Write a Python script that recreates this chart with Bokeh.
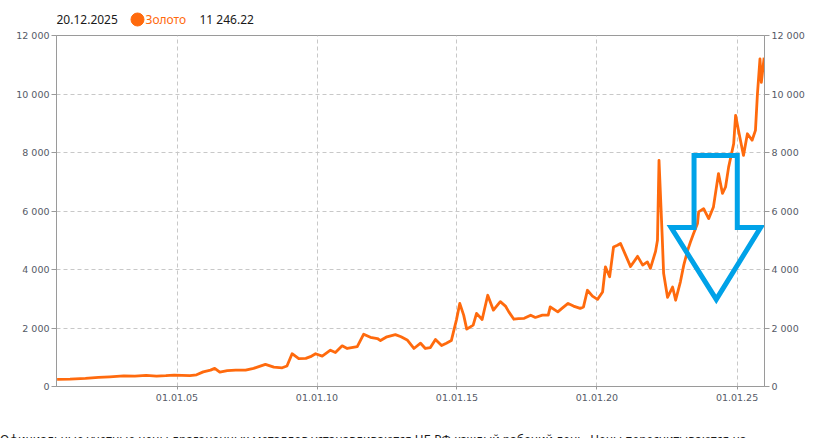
from datetime import datetime
import pandas as pd
from bokeh.plotting import figure
from bokeh.layouts import column
from bokeh.models import FixedTicker, LinearAxis, DatetimeTickFormatter, Range1d, Div
from bokeh.core.properties import value
from bokeh.embed import file_html
from bokeh.resources import INLINE

# ---- data ----
dates = [
    "2000-09-20", "2001-03-07", "2001-09-24", "2002-03-14", "2002-08-08", "2003-02-06",
    "2003-07-02", "2003-11-25", "2004-04-09", "2004-08-08", "2004-11-25", "2005-06-18",
    "2005-09-13", "2005-12-09", "2006-03-14", "2006-05-08", "2006-07-13", "2006-10-19",
    "2007-02-06", "2007-06-14", "2007-09-27", "2008-02-28", "2008-06-17", "2008-10-04",
    "2008-12-05", "2009-02-10", "2009-05-08", "2009-08-08", "2009-10-08", "2009-12-13",
    "2010-03-10", "2010-06-25", "2010-08-29", "2010-11-25", "2011-01-30", "2011-06-10",
    "2011-09-02", "2011-11-28", "2012-02-28", "2012-04-08", "2012-07-01", "2012-10-19",
    "2013-01-01", "2013-03-22", "2013-06-18", "2013-09-13", "2013-11-14", "2014-01-19",
    "2014-03-26", "2014-06-14", "2014-08-15", "2014-10-19", "2014-12-24", "2015-02-06",
    "2015-03-29", "2015-05-08", "2015-07-31", "2015-09-13", "2015-11-25", "2016-02-06",
    "2016-04-20", "2016-07-19", "2016-09-24", "2016-11-07", "2017-01-12", "2017-03-14",
    "2017-05-27", "2017-08-19", "2017-10-19", "2018-01-19", "2018-04-05", "2018-05-01",
    "2018-08-08", "2018-10-01", "2018-12-20", "2019-02-28", "2019-05-27", "2019-07-09",
    "2019-08-29", "2019-11-03", "2020-01-08", "2020-03-14", "2020-04-20", "2020-06-14",
    "2020-08-04", "2020-09-24", "2020-11-03", "2021-01-08", "2021-03-14", "2021-06-14",
    "2021-08-19", "2021-10-19", "2021-11-28", "2022-02-03", "2022-02-28", "2022-03-20",
    "2022-05-01", "2022-05-19", "2022-07-09", "2022-09-13", "2022-10-23", "2022-12-24",
    "2023-02-06", "2023-03-29", "2023-05-04", "2023-06-14", "2023-08-04", "2023-08-19",
    "2023-10-23", "2023-12-28", "2024-02-28", "2024-05-04", "2024-06-25", "2024-08-04",
    "2024-09-13", "2024-11-18", "2024-12-13", "2025-01-19", "2025-03-26", "2025-05-16",
    "2025-07-16", "2025-08-29", "2025-09-24", "2025-10-27", "2025-11-14", "2025-12-20",
]
gold_prices = [
    245, 250, 275, 310, 330, 365,
    355, 380, 358, 370, 392, 370,
    400, 500, 560, 620, 490, 540,
    560, 560, 620, 755, 660, 640,
    700, 1120, 950, 960, 1020, 1120,
    1040, 1240, 1160, 1390, 1300, 1360,
    1790, 1680, 1640, 1570, 1700, 1775,
    1700, 1590, 1300, 1480, 1300, 1330,
    1610, 1400, 1480, 1570, 2270, 2840,
    2440, 1960, 2100, 2500, 2290, 3120,
    2610, 2900, 2750, 2550, 2300, 2320,
    2330, 2440, 2360, 2440, 2440, 2720,
    2550, 2670, 2840, 2750, 2670, 2720,
    3290, 3090, 2980, 3230, 4090, 3750,
    4770, 4830, 4890, 4490, 4100, 4450,
    4150, 4260, 4040, 4620, 5000, 7730,
    5110, 3870, 3050, 3400, 2950, 3580,
    4150, 4660, 4940, 5230, 5570, 5970,
    6080, 5740, 6140, 7280, 6600, 6820,
    7500, 8300, 9270, 8760, 7900, 8640,
    8420, 8757, 10010, 11200, 10400, 11246.22,
]

y_ticks = [0, 2000, 4000, 6000, 8000, 10000, 12000]
y_tick_labels = ["0", "2 000", "4 000", "6 000", "8 000", "10 000", "12 000"]
x_tick_dates = ["2005-01-01", "2010-01-01", "2015-01-01", "2020-01-01", "2025-01-01"]
x_tick_labels = ["01.01.05", "01.01.10", "01.01.15", "01.01.20", "01.01.25"]

legend_date = "20.12.2025"
series_name = "Золото"
legend_value = "11 246.22"
footnote = ("Официальные учетные цены драгоценных металлов устанавливаются ЦБ РФ "
            "каждый рабочий день. Цены пересчитываются на")

# Hand-drawn arrow overlay (data units)
arrow_dates = ["2023-06-20", "2025-01-04", "2025-01-04", "2025-11-04",
               "2024-04-05", "2022-08-25", "2023-06-20"]
arrow_values = [7900, 7900, 5435, 5435, 2977, 5435, 5435]

ORANGE = "#ff6a0d"
BLUE = "#00a2e8"
AXIS = "#9a9a9a"
TICKTXT = "#555a66"
INK = "#1a1a1a"
PAGE_W = 828
FRAME_L, FRAME_R = 56, 764      # page x of the chart frame (strips align to it)

# ---- header strip (its frame is aligned with the chart frame; 1 unit = 1 page px) ----
head = figure(width=PAGE_W, height=27, x_range=Range1d(FRAME_L, FRAME_R), y_range=Range1d(0, 27),
              x_axis_location=None, y_axis_location=None,
              min_border_left=FRAME_L, min_border_right=PAGE_W - FRAME_R,
              min_border_top=0, min_border_bottom=0,
              output_backend="svg", toolbar_location=None,
              background_fill_color="white", border_fill_color="white")
head.grid.visible = False
head.outline_line_color = None
head.text(x=[56], y=[8], text=[legend_date], text_font=value("Noto Sans"),
          text_font_size=value("12px"), text_color=INK, text_baseline="middle")
head.scatter(x=[137], y=[8], size=13, marker="circle", fill_color=ORANGE, line_color=ORANGE)
head.text(x=[145], y=[8], text=[series_name], text_font=value("Noto Sans"),
          text_font_size=value("12px"), text_color=ORANGE, text_baseline="middle")
head.text(x=[199], y=[8], text=[legend_value], text_font=value("Noto Sans"),
          text_font_size=value("12px"), text_color=INK, text_baseline="middle")

# ---- main chart ----
x = pd.to_datetime(dates)
p = figure(
    x_axis_type="datetime",
    frame_width=FRAME_R - FRAME_L, frame_height=351,
    min_border_left=FRAME_L, min_border_right=PAGE_W - FRAME_R, min_border_top=8, min_border_bottom=44,
    x_range=Range1d(datetime(2000, 9, 12), datetime(2025, 12, 25)),
    y_range=Range1d(0, 12000),
    output_backend="svg", toolbar_location=None,
    background_fill_color="white", border_fill_color="white",
)
p.outline_line_color = AXIS
p.outline_line_width = 1

for g in (p.xgrid, p.ygrid):
    g.grid_line_color = "#c8c8c8"
    g.grid_line_dash = "4 3"
    g.grid_line_width = 1

x_tick_ms = [pd.Timestamp(d).value // 10**6 for d in x_tick_dates]
p.xaxis.ticker = FixedTicker(ticks=x_tick_ms)
p.xaxis.formatter = DatetimeTickFormatter(
    years="%d.%m.%y", months="%d.%m.%y", days="%d.%m.%y")
p.xaxis.major_label_overrides = {t: l for t, l in zip(x_tick_ms, x_tick_labels)}
p.xgrid.ticker = FixedTicker(ticks=x_tick_ms)

y_over = {t: l for t, l in zip(y_ticks, y_tick_labels)}
p.yaxis.ticker = FixedTicker(ticks=y_ticks)
p.yaxis.major_label_overrides = y_over
p.ygrid.ticker = FixedTicker(ticks=y_ticks)
right_axis = LinearAxis(ticker=FixedTicker(ticks=y_ticks), major_label_overrides=y_over)
p.add_layout(right_axis, "right")

for ax in p.axis:
    ax.axis_line_color = AXIS
    ax.major_tick_line_color = AXIS
    ax.minor_tick_line_color = None
    ax.major_tick_in = 0
    ax.major_tick_out = 5
    ax.major_label_text_font = "DejaVu Sans"
    ax.major_label_text_font_size = "9.5px"
    ax.major_label_text_color = TICKTXT
    ax.major_label_standoff = 2
p.xaxis.major_tick_out = 3
p.xaxis.major_label_standoff = 4

p.line(x, gold_prices, line_color=ORANGE, line_width=2.8, line_join="round")

p.patch(pd.to_datetime(arrow_dates), arrow_values, fill_alpha=0,
        line_color=BLUE, line_width=5, line_join="miter")

# ---- footnote (its lower part is cut by the window edge, as in the source) ----
foot = Div(
    text=footnote, width=PAGE_W, height=8,
    styles={"overflow": "hidden", "font-family": "'Noto Sans'", "font-size": "12px",
            "color": INK, "white-space": "nowrap", "line-height": "14px",
            "padding-top": "3px", "margin": "0"},
)

page = column(head, p, foot, spacing=0)
open("out.html", "w").write(file_html(page, INLINE))
